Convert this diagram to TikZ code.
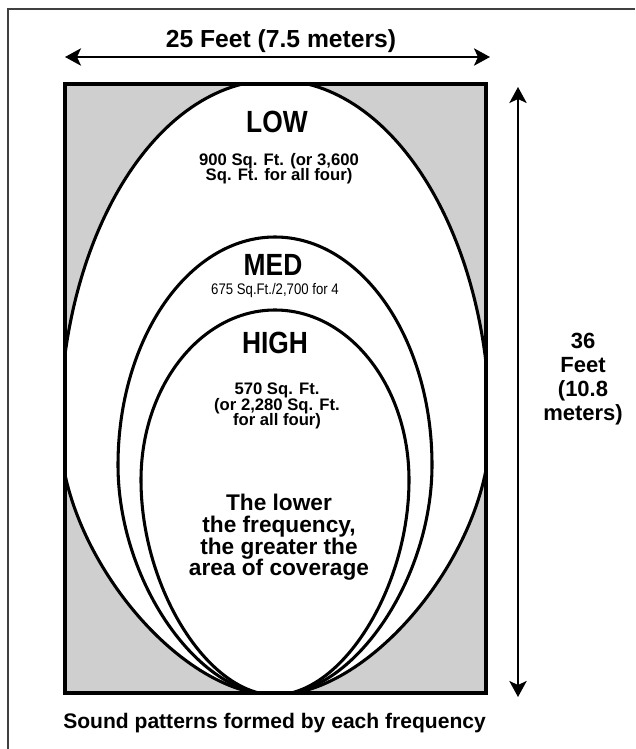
\documentclass[tikz,border=0pt]{standalone}
\usepackage{fontspec}
\setmainfont{Liberation Sans}
\newfontfamily\condfont[FakeStretch=0.86]{Liberation Sans}
\usetikzlibrary{arrows.meta}
\begin{document}
\lineskiplimit=-20pt\relax
\begin{tikzpicture}[x=0.75pt,y=-0.75pt,
  outline/.style={line width=2.3pt, line join=round},
  dimarrow/.style={line width=1.5pt, {Stealth[length=12pt,width=13pt,inset=3pt]}-{Stealth[length=12pt,width=13pt,inset=3pt]}},
  frameline/.style={line width=1.1pt, black!75},
  dimlabel/.style={inner sep=0pt, font=\bfseries\fontsize{18.5}{20}\selectfont},
  sidelabel/.style={inner sep=0pt, align=center, font=\bfseries\fontsize{16.5}{18}\selectfont},
  bandname/.style={inner sep=0pt, font=\condfont\bfseries\fontsize{23}{25}\selectfont},
  areatext/.style={inner sep=0pt, align=center, font=\bfseries\fontsize{12.5}{11.4}\selectfont},
  medtext/.style={inner sep=0pt, font=\condfont\fontsize{11.5}{13}\selectfont},
  bodytext/.style={inner sep=0pt, align=center, font=\bfseries\fontsize{17}{16.3}\selectfont},
  captiontext/.style={inner sep=0pt, font=\bfseries\fontsize{15.8}{18}\selectfont}]
\useasboundingbox (0,0) rectangle (635,749);
% outer frame
\coordinate (fbl) at (8,749);
\coordinate (ftl) at (8,9);
\coordinate (ftr) at (635,9);
\draw[frameline] (fbl) -- (ftl) -- (ftr);
% room
\fill[black!19] (65,84) rectangle (486,693);
\begin{scope}
\clip (65,84) rectangle (486,693);
% LOW
\path[outline, draw=black, fill=white] (60,430) .. controls (60,236.7) and (156.3,80) .. (275,80)
  .. controls (393.7,80) and (490,236.7) .. (490,430)
  .. controls (490,550) and (372,695) .. (275,695)
  .. controls (178,695) and (60,550) .. (60,430) -- cycle;
% MED
\draw[outline] (118,465) .. controls (118,339.1) and (188.3,237) .. (275,237)
  .. controls (361.7,237) and (432,339.1) .. (432,465)
  .. controls (432,580) and (353,695) .. (275,695)
  .. controls (197,695) and (118,580) .. (118,465) -- cycle;
% HIGH
\draw[outline] (141,480) .. controls (141,386.1) and (201,310) .. (275,310)
  .. controls (349,310) and (409,386.1) .. (409,480)
  .. controls (409,588) and (342,695) .. (275,695)
  .. controls (208,695) and (141,588) .. (141,480) -- cycle;
\end{scope}
\draw[line width=2.3pt] (65,84) rectangle (486,693);
% dimension arrows
\coordinate (hl) at (65,57);
\coordinate (hr) at (490,57);
\draw[dimarrow] (hl) -- (hr);
\coordinate (vt) at (518,87);
\coordinate (vb) at (518,697);
\draw[dimarrow] (vt) -- (vb);
% labels
\node[dimlabel, anchor=base] (toplbl) at (281,48) {25 Feet (7.5 meters)};
\node[sidelabel, anchor=north] (sidelbl) at (583,333) {36\\Feet\\(10.8\\meters)};
\node[bandname, anchor=base] (lowlbl) at (277,132) {LOW};
\node[areatext, anchor=north] (lowarea) at (279,153) {900 Sq. Ft. (or 3,600\\Sq. Ft. for all four)};
\node[bandname, anchor=base] (medlbl) at (273,275) {MED};
\node[medtext, anchor=north] (medarea) at (275,283) {675 Sq.Ft./2,700 for 4};
\node[bandname, anchor=base] (highlbl) at (275,353) {HIGH};
\node[areatext, anchor=north] (higharea) at (277,383) {570 Sq. Ft.\\(or 2,280 Sq. Ft.\\for all four)};
\node[bodytext, anchor=north] (body) at (279,494) {The lower\\the frequency,\\the greater the\\area of coverage};
\node[captiontext, anchor=base west] (caption) at (63,728) {Sound patterns formed by each frequency};
\end{tikzpicture}
\end{document}
